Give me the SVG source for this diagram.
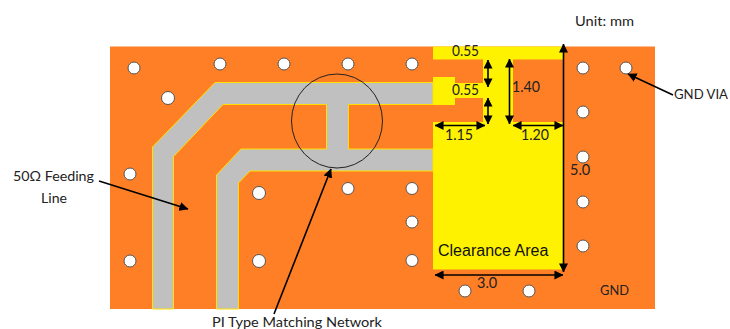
<svg xmlns="http://www.w3.org/2000/svg" width="730" height="329" viewBox="0 0 730 329">
<style>
.t{font-family:"Lato","Open Sans",sans-serif;font-size:14px;fill:#222}
.d{font-family:"Lato","Open Sans",sans-serif;font-size:14.500px;fill:#222}
.via{fill:#fff;stroke:#555;stroke-width:1}
.tr{fill:#c0c0c0;stroke:#ffe000;stroke-width:1}
.c{stroke:#000;stroke-width:1.6;fill:none}
</style>
<defs>
<marker id="a" viewBox="0 0 10 10" refX="9.5" refY="5" markerWidth="9" markerHeight="9" markerUnits="userSpaceOnUse" orient="auto-start-reverse"><path d="M0 0L10 5L0 10z" fill="#000"/></marker>
</defs>
<g id="board">
<rect x="110" y="46.5" width="545" height="262.500" fill="#fe7f26"/>
<path d="M433 46.500H563.500V269.500H433V122H483V98H455V105H433V77H455V83H483V59.500H433zM513 59.500V122H563V59.500z" fill="#fff200" fill-rule="evenodd"/>
</g>
<g id="traces">
<path class="tr" d="M152.500 309V147L215 82.500H433V104.500H348.500V149H433V171H250L238.500 183V309H216.500V175L241 149H326.500V104.500H223L173.500 156.500V309z"/>
</g>
<g id="vias">
<circle class="via" cx="134" cy="68" r="6"/><circle class="via" cx="220" cy="64" r="6"/><circle class="via" cx="284" cy="64" r="6"/><circle class="via" cx="348" cy="64" r="6"/><circle class="via" cx="412" cy="64" r="6"/>
<circle class="via" cx="168" cy="98" r="6.500"/><circle class="via" cx="130" cy="174" r="6"/><circle class="via" cx="130" cy="261" r="6"/>
<circle class="via" cx="259" cy="193" r="6.500"/><circle class="via" cx="259" cy="261" r="6.500"/><circle class="via" cx="348" cy="188.500" r="6"/><circle class="via" cx="412" cy="188.500" r="6"/><circle class="via" cx="412" cy="222" r="6"/><circle class="via" cx="412" cy="260.500" r="6"/>
<circle class="via" cx="465" cy="291" r="6"/><circle class="via" cx="529" cy="291" r="6"/>
<circle class="via" cx="583" cy="68" r="6"/><circle class="via" cx="626" cy="68" r="6"/><circle class="via" cx="583" cy="112" r="6"/><circle class="via" cx="583" cy="157" r="6"/><circle class="via" cx="583" cy="202" r="6"/><circle class="via" cx="583" cy="246" r="6"/>
</g>
<g id="matching-circle"><ellipse cx="337" cy="121" rx="45.500" ry="47" fill="none" stroke="#222" stroke-width="1"/></g>
<g id="connectors">
<path class="c" d="M563.500 272V44" marker-end="url(#a)" marker-start="url(#a)"/>
<path class="c" d="M435 275H563" marker-end="url(#a)" marker-start="url(#a)"/>
<path class="c" d="M488 60V87" marker-end="url(#a)" marker-start="url(#a)"/>
<path class="c" d="M488 98V124" marker-end="url(#a)" marker-start="url(#a)"/>
<path class="c" d="M509.500 59V124" marker-end="url(#a)" marker-start="url(#a)"/>
<path class="c" d="M435 125.500H485" marker-end="url(#a)" marker-start="url(#a)"/>
<path class="c" d="M513 125.500H563" marker-end="url(#a)" marker-start="url(#a)"/>
<path class="c" d="M673 95L628 74" marker-end="url(#a)"/>
<path class="c" d="M99 181L188 209" marker-end="url(#a)"/>
<path class="c" d="M274 314L331 169" marker-end="url(#a)"/>
</g>
<g id="labels">
<text class="t" x="575" y="26" textLength="59" lengthAdjust="spacingAndGlyphs">Unit: mm</text>
<text class="t" x="674" y="99" textLength="54" lengthAdjust="spacingAndGlyphs">GND VIA</text>
<text class="t" x="13" y="181" textLength="81" lengthAdjust="spacingAndGlyphs">50Ω Feeding</text>
<text class="t" x="41" y="202.500" textLength="26" lengthAdjust="spacingAndGlyphs">Line</text>
<text class="t" x="212" y="327" textLength="170" lengthAdjust="spacingAndGlyphs">PI Type Matching Network</text>
<text class="t" x="600" y="295" textLength="29" lengthAdjust="spacingAndGlyphs">GND</text>
<text class="d" x="452" y="56" textLength="27" lengthAdjust="spacingAndGlyphs">0.55</text>
<text class="d" x="452" y="95" textLength="27" lengthAdjust="spacingAndGlyphs">0.55</text>
<text class="d" x="512" y="92" textLength="28" lengthAdjust="spacingAndGlyphs">1.40</text>
<text class="d" x="445" y="140" textLength="28" lengthAdjust="spacingAndGlyphs">1.15</text>
<text class="d" x="521" y="140" textLength="28" lengthAdjust="spacingAndGlyphs">1.20</text>
<text class="d" x="570" y="175">5.0</text>
<text class="d" x="477" y="288">3.0</text>
<text x="438" y="255.500" font-family="Liberation Sans,Arial,sans-serif" font-size="16px" fill="#111">Clearance Area</text>
</g>
</svg>
